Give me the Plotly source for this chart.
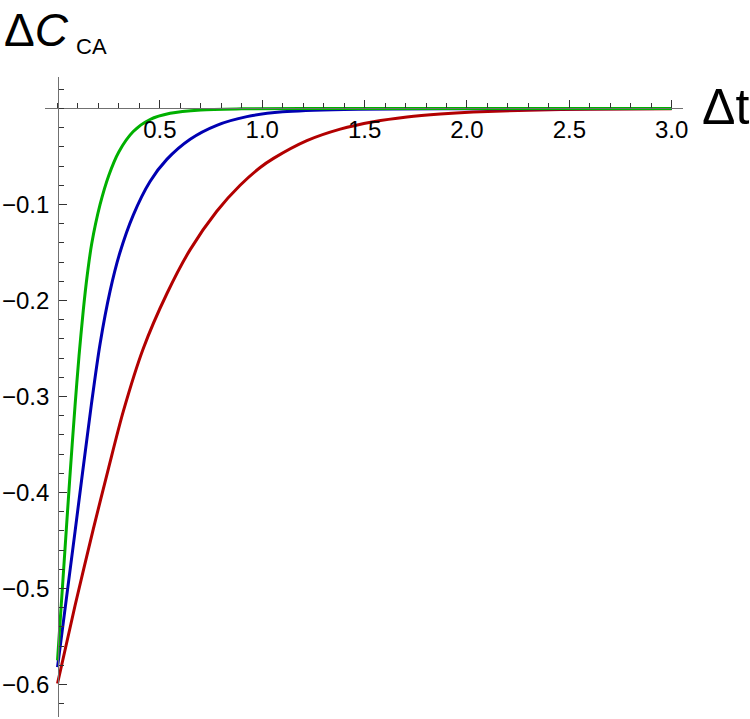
import plotly.graph_objects as go

# ---- data ----
t_red = [0, 0.0855, 0.175, 0.25, 0.322, 0.419, 0.534, 0.648, 0.778, 0.892, 0.99, 1.055,
         1.218, 1.381, 1.543, 1.707, 1.87, 2.03, 2.3, 2.6, 3.0]
v_red = [-0.599, -0.518, -0.438, -0.374, -0.315, -0.250, -0.193, -0.147, -0.107, -0.080,
         -0.0615, -0.052, -0.0335, -0.0215, -0.0138, -0.0088, -0.0057, -0.0037, -0.0018,
         -0.0008, -0.0003]

t_blue = [0, 0.0855, 0.165, 0.208, 0.257, 0.305, 0.37, 0.452, 0.534, 0.648, 0.778,
          0.925, 1.1, 1.4, 2.0, 3.0]
v_blue = [-0.582, -0.441, -0.309, -0.245, -0.190, -0.150, -0.111, -0.076, -0.053, -0.032,
          -0.0175, -0.0085, -0.0035, -0.001, -0.0002, 0.0]

t_green = [0, 0.03, 0.06, 0.0855, 0.105, 0.126, 0.145, 0.167, 0.208, 0.25, 0.3, 0.37,
           0.452, 0.55, 0.7, 0.9, 1.2, 3.0]
v_green = [-0.575, -0.480, -0.385, -0.310, -0.258, -0.210, -0.174, -0.141, -0.100, -0.070,
           -0.045, -0.024, -0.0115, -0.005, -0.0015, -0.0004, 0.0, 0.0]

x_tickvals = [0.5, 1.0, 1.5, 2.0, 2.5, 3.0]
x_ticktext = ["0.5", "1.0", "1.5", "2.0", "2.5", "3.0"]
y_tickvals = [-0.1, -0.2, -0.3, -0.4, -0.5, -0.6]
y_ticktext = ["\u22120.1", "\u22120.2", "\u22120.3", "\u22120.4", "\u22120.5", "\u22120.6"]

series = [
    (t_red, v_red, "#B20000"),
    (t_blue, v_blue, "#0000B2"),
    (t_green, v_green, "#00B000"),
]

FONT = "Liberation Sans, Arial, sans-serif"

fig = go.Figure()
for t, v, c in series:
    fig.add_trace(go.Scatter(x=t, y=v, mode="lines",
                             line=dict(color=c, width=3, shape="spline", smoothing=0.8),
                             hoverinfo="skip", showlegend=False))

W, H = 750, 719
ml, mr, mt, mb = 45, 67, 77, 2
xmin, xmax = -0.0611, 3.0553
ymin, ymax = -0.6339, 0.0328
pw = W - ml - mr
ph = H - mt - mb

fig.update_layout(
    width=W, height=H,
    margin=dict(l=ml, r=mr, t=mt, b=mb, pad=0),
    paper_bgcolor="white", plot_bgcolor="white",
    font=dict(family=FONT, color="black", size=24),
    showlegend=False,
    xaxis=dict(range=[xmin, xmax], anchor="free", position=(0 - ymin) / (ymax - ymin),
               showgrid=False, zeroline=False, showline=True, linecolor="#707070", linewidth=1.3,
               tickmode="array", tickvals=x_tickvals, ticktext=x_ticktext,
               ticks="inside", ticklen=8, tickwidth=1.2, tickcolor="#333333",
               tickfont=dict(size=24, family=FONT, color="black"),
               ticklabelstandoff=0,
               minor=dict(tickmode="linear", tick0=0, dtick=0.1, ticks="inside",
                          ticklen=5, tickwidth=1, tickcolor="#333333", showgrid=False)),
    yaxis=dict(range=[ymin, ymax], anchor="free", position=(0 - xmin) / (xmax - xmin),
               showgrid=False, zeroline=False, showline=True, linecolor="#707070", linewidth=1.3,
               tickmode="array", tickvals=y_tickvals, showticklabels=False,
               ticks="inside", ticklen=8, tickwidth=1.2, tickcolor="#333333",
               minor=dict(tickmode="linear", tick0=0, dtick=0.02, ticks="inside",
                          ticklen=5, tickwidth=1, tickcolor="#333333", showgrid=False)),
)

# y tick labels (placed next to the axis)
for val, txt in zip(y_tickvals, y_ticktext):
    fig.add_annotation(text=txt, xref="paper", yref="y", x=(51 - ml) / pw, y=val,
                       xanchor="right", yanchor="middle", showarrow=False,
                       font=dict(size=24, family=FONT, color="black"))

# axis labels
fig.add_annotation(text="\u0394<i>C</i>", xref="paper", yref="paper",
                   x=(2 - ml) / pw, y=(H - mb - 30) / ph,
                   xanchor="left", yanchor="middle", showarrow=False,
                   font=dict(size=46, family=FONT, color="black"))
fig.add_annotation(text="CA", xref="paper", yref="paper",
                   x=(74 - ml) / pw, y=(H - mb - 46) / ph,
                   xanchor="left", yanchor="middle", showarrow=False,
                   font=dict(size=22, family=FONT, color="black"))
fig.add_annotation(text="\u0394t", xref="paper", yref="paper",
                   x=(700 - ml) / pw, y=(H - mb - 107) / ph,
                   xanchor="left", yanchor="middle", showarrow=False,
                   font=dict(size=50, family=FONT, color="black"))

fig.write_html("out.html")
